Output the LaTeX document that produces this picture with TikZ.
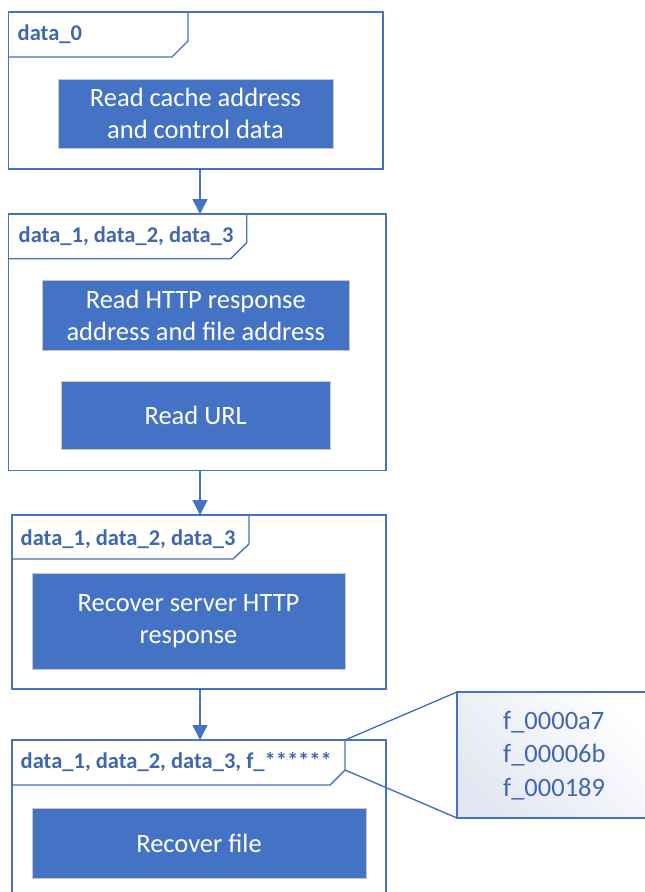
\documentclass[tikz,border=0pt]{standalone}
\usepackage{fontspec}
\setmainfont{Carlito}
\usetikzlibrary{arrows.meta,calc}
\definecolor{mblue}{HTML}{4472C4}
\definecolor{lblue}{HTML}{3F67B1}
\definecolor{lav}{HTML}{E3E7F3}
\tikzset{
  frame/.style={draw=mblue, line width=1.4pt, rectangle, anchor=north west, inner sep=0pt, outer sep=0pt},
  tabline/.style={draw=mblue, line width=1.4pt, line join=miter},
  flabel/.style={anchor=west, text=lblue, font=\fontsize{22.5}{26}\selectfont\bfseries, inner sep=0pt},
  stepbox/.style={fill=mblue, draw=black!22, line width=1pt, text=white, align=center,
     font=\fontsize{26.5}{32}\selectfont, inner sep=0pt},
  arr/.style={draw=mblue, line width=1.4pt, -{Triangle[width=15pt,length=15pt]}},
  cline/.style={draw=mblue, line width=1.4pt},
}
\begin{document}
\begin{tikzpicture}[x=1pt,y=-1pt]
\clip (0,0) rectangle (645,892);
\fill[white] (0,0) rectangle (645,892);
% frames
\node[frame, minimum width=374.3pt, minimum height=157pt] (f1) at (8.7,12) {};
\node[frame, minimum width=377.3pt, minimum height=256.7pt] (f2) at (8.7,214) {};
\node[frame, minimum width=374pt, minimum height=174pt] (f3) at (12,515) {};
\node[frame, minimum width=374pt, minimum height=200pt] (f4) at (12,740) {};
% tabs
\draw[tabline] (8.7,57) -- (172,57) -- (188,41) -- (188,12);
\draw[tabline] (8.7,258.7) -- (230.7,258.7) -- (246.7,242.7) -- (246.7,214);
\draw[tabline] (12,559) -- (233,559) -- (249,544) -- (249,515);
\draw[tabline] (12,785) -- (330,785) -- (345,770) -- (345,740);
\coordinate (t4a) at (345,740);
\coordinate (t4b) at (345,770);
% labels
\node[flabel] (l1) at (17.5,34) {data\_0};
\node[flabel] (l2) at (18.5,236.5) {data\_1, data\_2, data\_3};
\node[flabel] (l3) at (20.5,539) {data\_1, data\_2, data\_3};
\node[flabel] (l4) at (20.5,762) {data\_1, data\_2, data\_3, f\_******};
% step boxes
\node[stepbox, minimum width=275pt, minimum height=69pt] (b0) at (195.5,113.5) {Read cache address\\and control data};
\node[stepbox, minimum width=307pt, minimum height=69.7pt] (ba) at (195.8,315.8) {Read HTTP response\\address and file address};
\node[stepbox, minimum width=268.7pt, minimum height=68.3pt] (bb) at (195.7,415.8) {Read URL};
\node[stepbox, minimum width=313pt, minimum height=96pt] (bc) at (188.5,621) {Recover server HTTP\\response};
\node[stepbox, minimum width=334pt, minimum height=70pt] (bd) at (199,843) {Recover file};
% arrows
\coordinate (ax) at (200,0);
\draw[arr] (f1.south -| ax) -- (f2.north -| ax);
\draw[arr] (f2.south -| ax) -- (f3.north -| ax);
\draw[arr] (f3.south -| ax) -- (f4.north -| ax);
% callout
\node[frame, minimum width=200pt, minimum height=126pt, shade, top color=lav, bottom color=white, shading angle=135] (cb) at (457,692) {};
\node[anchor=west, text=lblue, align=left, font=\fontsize{26.5}{33.5}\selectfont, inner sep=0pt] (ct) at (503,755.5) {f\_0000a7\\f\_00006b\\f\_000189};
\draw[cline] (t4a) -- (cb.north west);
\draw[cline] (t4b) -- (cb.south west);
\end{tikzpicture}
\end{document}
